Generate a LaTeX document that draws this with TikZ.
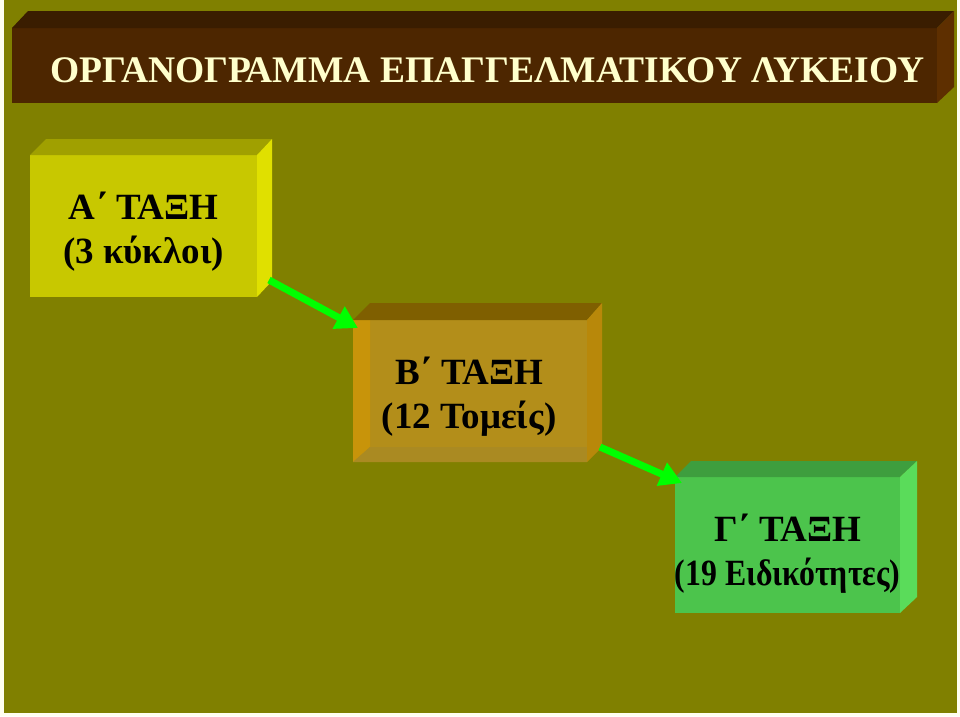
\documentclass[tikz,border=0pt]{standalone}
\usepackage{fontspec}
\setmainfont{Liberation Serif}
\usetikzlibrary{arrows.meta}
\definecolor{pagecream}{HTML}{FFFFF0}
\definecolor{olivebg}{HTML}{808000}
\definecolor{titlefront}{HTML}{4D2600}
\definecolor{titletop}{HTML}{3A1D00}
\definecolor{titleside}{HTML}{5E2F00}
\definecolor{titleink}{HTML}{FFFFCC}
\definecolor{afront}{HTML}{C8C800}
\definecolor{atop}{HTML}{A0A000}
\definecolor{aside}{HTML}{E0E000}
\definecolor{bcenter}{HTML}{B38E1A}
\definecolor{bleft}{HTML}{C8940A}
\definecolor{bbottom}{HTML}{AA8A22}
\definecolor{btop}{HTML}{7F5F00}
\definecolor{bside}{HTML}{B8880A}
\definecolor{cfront}{HTML}{4CC44C}
\definecolor{ctop}{HTML}{3E9E3E}
\definecolor{cside}{HTML}{5ADC5A}
\definecolor{arrowgreen}{HTML}{00FF00}
\tikzset{
  boxtext/.style={font=\fontsize{37}{44}\selectfont\bfseries, align=center, inner sep=0pt, text=black},
  titletext/.style={font=\fontsize{37.5}{44}\selectfont\bfseries, inner sep=0pt, text=titleink},
  greenarrow/.style={draw=arrowgreen, line width=7pt, -{Triangle[length=22pt,width=24pt]}}
}
\begin{document}
\begin{tikzpicture}[x=1pt,y=-1pt]
\useasboundingbox (0,0) rectangle (960,716);
\fill[pagecream] (0,0) rectangle (960,716);
\fill[olivebg] (4,0) rectangle (957,713);
% title bar
\fill[titlefront] (12,28) rectangle (937,103);
\fill[titletop] (12,28) -- (28,11) -- (954,11) -- (937,28) -- cycle;
\fill[titleside] (937,28) -- (954,11) -- (954,87) -- (937,103) -- cycle;
\node[titletext, anchor=base] (title) at (487.5,82) {ΟΡΓΑΝΟΓΡΑΜΜΑ ΕΠΑΓΓΕΛΜΑΤΙΚΟΥ ΛΥΚΕΙΟΥ};
% box A
\fill[afront] (30,155) rectangle (257,297);
\fill[atop] (30,155) -- (46,139) -- (272,139) -- (257,155) -- cycle;
\fill[aside] (257,155) -- (272,139) -- (272,281) -- (257,297) -- cycle;
\node[boxtext] (ta) at (143.5,231.5) {Α΄ ΤΑΞΗ\\(3 κύκλοι)};
% box B
\fill[bcenter] (353,320) rectangle (587,462);
\fill[bleft] (353,320) -- (370,320) -- (370,447) -- (353,462) -- cycle;
\fill[bbottom] (353,462) -- (370,447) -- (587,447) -- (587,462) -- cycle;
\fill[btop] (353,320) -- (370,303) -- (602,303) -- (587,320) -- cycle;
\fill[bside] (587,320) -- (602,303) -- (602,447) -- (587,462) -- cycle;
\node[boxtext] (tb) at (469,396.5) {Β΄ ΤΑΞΗ\\(12 Τομείς)};
% box C
\fill[cfront] (675,477) rectangle (900,613);
\fill[ctop] (675,477) -- (691,461) -- (917,461) -- (900,477) -- cycle;
\fill[cside] (900,477) -- (917,461) -- (917,597) -- (900,613) -- cycle;
\node[boxtext] (tc) at (787.5,553.5) {Γ΄ ΤΑΞΗ\\\scalebox{0.86}[1]{(19 Ειδικότητες)}};
% connectors
\coordinate (aout) at (269,280);
\coordinate (bin) at (358,328);
\coordinate (bout) at (600,447);
\coordinate (cin) at (682,483);
\draw[greenarrow] (aout) -- (bin);
\draw[greenarrow] (bout) -- (cin);
\end{tikzpicture}
\end{document}
